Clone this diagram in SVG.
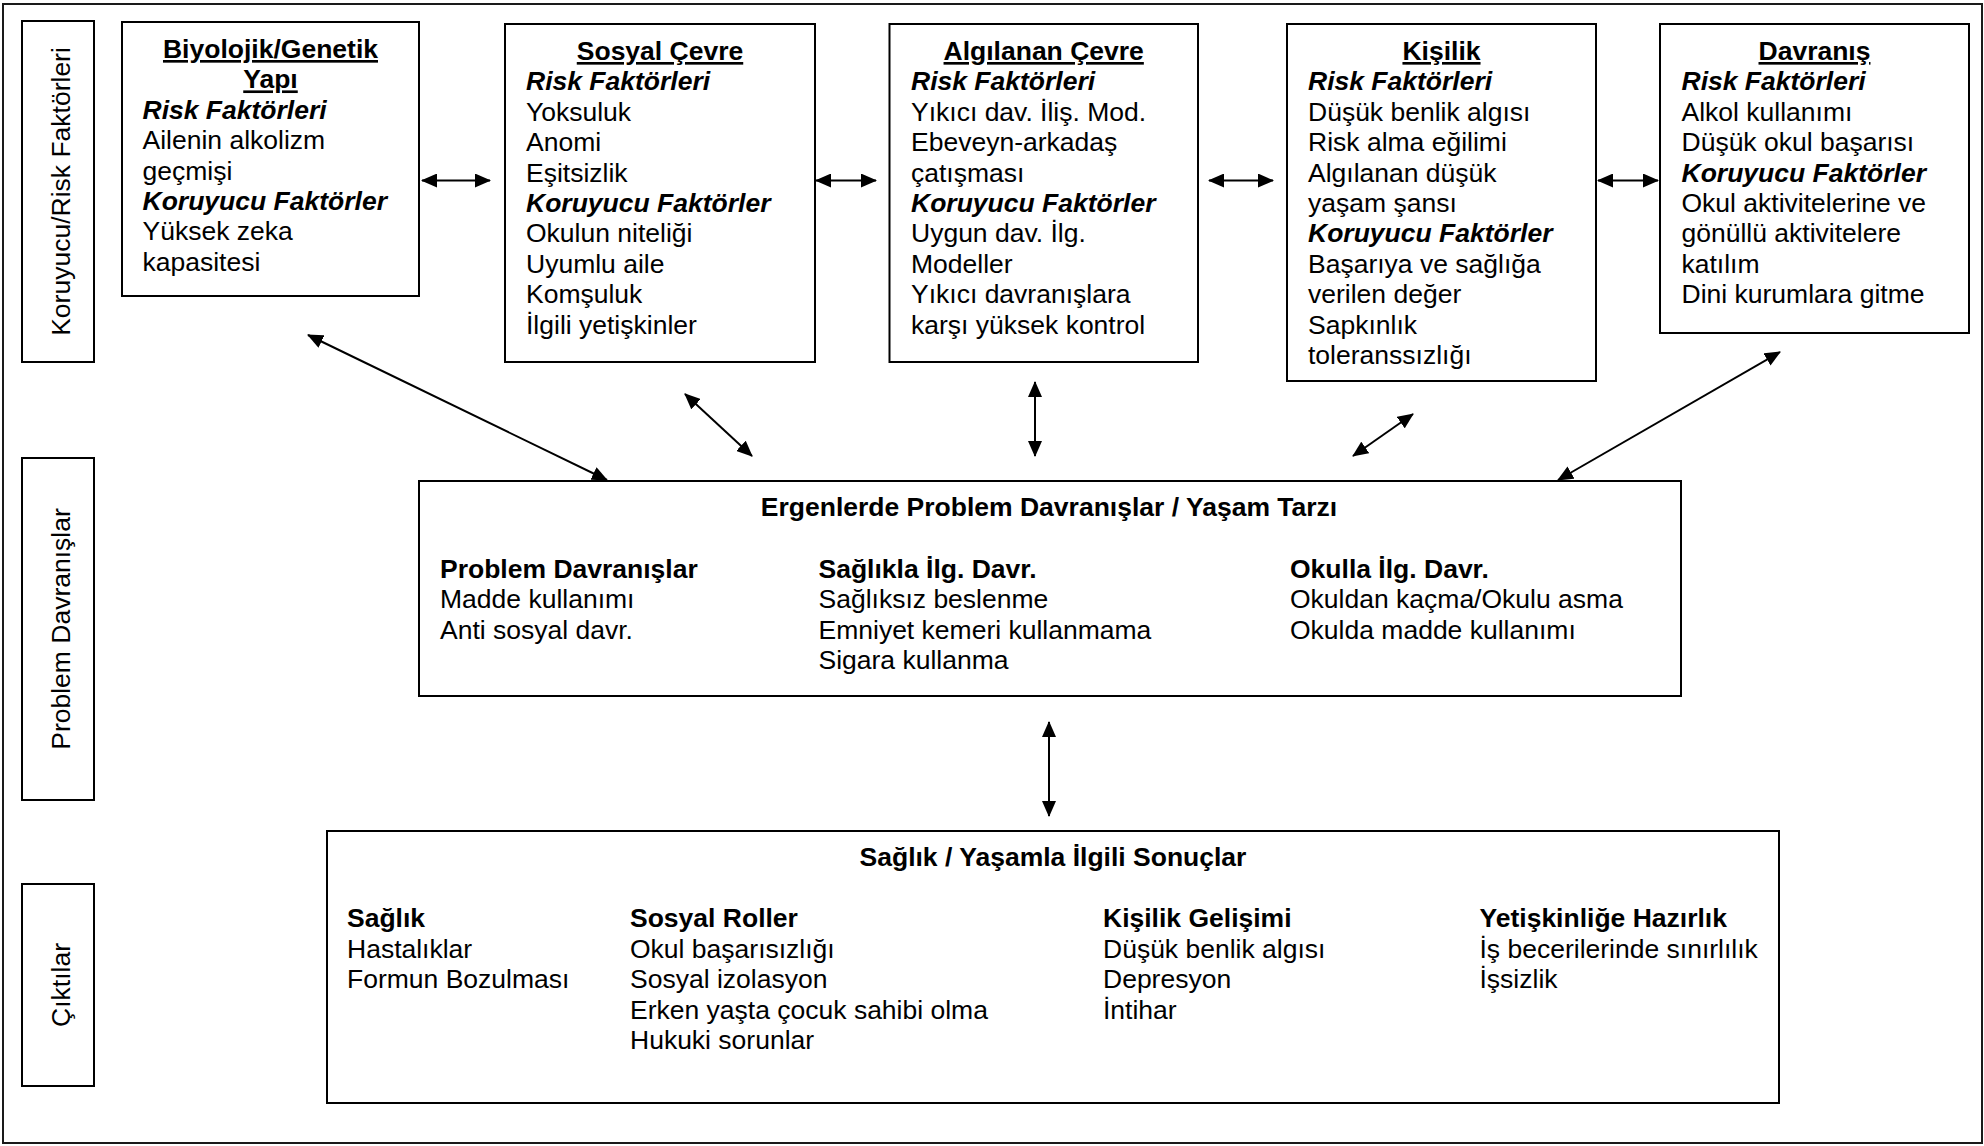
<svg xmlns="http://www.w3.org/2000/svg" width="1984" height="1146" viewBox="0 0 1984 1146">
<style>
  text { font-family: "Liberation Sans", Arial, sans-serif; font-size: 26.5px; fill: #000; }
  .box { fill: #fff; stroke: #000; stroke-width: 2; }
  .frame { fill: #fff; stroke: #1a1a1a; stroke-width: 2; }
  .t { font-weight: bold; text-decoration: underline; text-anchor: middle; }
  .h { font-weight: bold; font-style: italic; }
  .b { font-weight: bold; }
  .c { text-anchor: middle; }
  .con line { stroke: #000; stroke-width: 2; marker-start: url(#ah); marker-end: url(#ah); }
</style>
<defs>
  <marker id="ah" viewBox="0 0 16 14" refX="15" refY="7" markerWidth="16" markerHeight="14" markerUnits="userSpaceOnUse" orient="auto-start-reverse">
    <path d="M0,0 L16,7 L0,14 z" fill="#000"/>
  </marker>
</defs>
<rect class="frame" x="3" y="4" width="1979" height="1139"/>

<g id="label-koruyucu">
  <rect class="box" x="22" y="21" width="72" height="341"/>
  <text class="c" transform="translate(70,191.5) rotate(-90)">Koruyucu/Risk Faktörleri</text>
</g>
<g id="label-problem">
  <rect class="box" x="22" y="458" width="72" height="342"/>
  <text class="c" transform="translate(70,629) rotate(-90)">Problem Davranışlar</text>
</g>
<g id="label-ciktilar">
  <rect class="box" x="22" y="884" width="72" height="202"/>
  <text class="c" transform="translate(70,985) rotate(-90)">Çıktılar</text>
</g>

<g id="biyolojik">
  <rect class="box" x="122" y="22" width="297" height="274"/>
  <text class="t" x="270.5" y="58">Biyolojik/Genetik</text>
  <text class="t" x="270.5" y="88.4">Yapı</text>
  <text class="h" x="142.5" y="118.8">Risk Faktörleri</text>
  <text x="142.5" y="149.2">Ailenin alkolizm</text>
  <text x="142.5" y="179.6">geçmişi</text>
  <text class="h" x="142.5" y="210">Koruyucu Faktörler</text>
  <text x="142.5" y="240.4">Yüksek zeka</text>
  <text x="142.5" y="270.8">kapasitesi</text>
</g>

<g id="sosyal-cevre">
  <rect class="box" x="505" y="24" width="310" height="338"/>
  <text class="t" x="660" y="60">Sosyal Çevre</text>
  <text class="h" x="526" y="90.4">Risk Faktörleri</text>
  <text x="526" y="120.8">Yoksuluk</text>
  <text x="526" y="151.2">Anomi</text>
  <text x="526" y="181.6">Eşitsizlik</text>
  <text class="h" x="526" y="212">Koruyucu Faktörler</text>
  <text x="526" y="242.4">Okulun niteliği</text>
  <text x="526" y="272.8">Uyumlu aile</text>
  <text x="526" y="303.2">Komşuluk</text>
  <text x="526" y="333.6">İlgili yetişkinler</text>
</g>

<g id="algilanan-cevre">
  <rect class="box" x="889.5" y="24" width="308.5" height="338"/>
  <text class="t" x="1043.7" y="60">Algılanan Çevre</text>
  <text class="h" x="911" y="90.4">Risk Faktörleri</text>
  <text x="911" y="120.8">Yıkıcı dav. İliş. Mod.</text>
  <text x="911" y="151.2">Ebeveyn-arkadaş</text>
  <text x="911" y="181.6">çatışması</text>
  <text class="h" x="911" y="212">Koruyucu Faktörler</text>
  <text x="911" y="242.4">Uygun dav. İlg.</text>
  <text x="911" y="272.8">Modeller</text>
  <text x="911" y="303.2">Yıkıcı davranışlara</text>
  <text x="911" y="333.6">karşı yüksek kontrol</text>
</g>

<g id="kisilik">
  <rect class="box" x="1287" y="24" width="309" height="357"/>
  <text class="t" x="1441.5" y="60">Kişilik</text>
  <text class="h" x="1308" y="90.4">Risk Faktörleri</text>
  <text x="1308" y="120.8">Düşük benlik algısı</text>
  <text x="1308" y="151.2">Risk alma eğilimi</text>
  <text x="1308" y="181.6">Algılanan düşük</text>
  <text x="1308" y="212">yaşam şansı</text>
  <text class="h" x="1308" y="242.4">Koruyucu Faktörler</text>
  <text x="1308" y="272.8">Başarıya ve sağlığa</text>
  <text x="1308" y="303.2">verilen değer</text>
  <text x="1308" y="333.6">Sapkınlık</text>
  <text x="1308" y="364">toleranssızlığı</text>
</g>

<g id="davranis">
  <rect class="box" x="1660" y="24" width="309" height="309"/>
  <text class="t" x="1814.5" y="60">Davranış</text>
  <text class="h" x="1681.5" y="90.4">Risk Faktörleri</text>
  <text x="1681.5" y="120.8">Alkol kullanımı</text>
  <text x="1681.5" y="151.2">Düşük okul başarısı</text>
  <text class="h" x="1681.5" y="181.6">Koruyucu Faktörler</text>
  <text x="1681.5" y="212">Okul aktivitelerine ve</text>
  <text x="1681.5" y="242.4">gönüllü aktivitelere</text>
  <text x="1681.5" y="272.8">katılım</text>
  <text x="1681.5" y="303.2">Dini kurumlara gitme</text>
</g>

<g id="ergenlerde">
  <rect class="box" x="419" y="481" width="1262" height="215"/>
  <text class="b c" x="1049" y="516">Ergenlerde Problem Davranışlar / Yaşam Tarzı</text>
  <text class="b" x="440" y="577.5">Problem Davranışlar</text>
  <text x="440" y="608">Madde kullanımı</text>
  <text x="440" y="638.5">Anti sosyal davr.</text>
  <text class="b" x="818.5" y="577.5">Sağlıkla İlg. Davr.</text>
  <text x="818.5" y="608">Sağlıksız beslenme</text>
  <text x="818.5" y="638.5">Emniyet kemeri kullanmama</text>
  <text x="818.5" y="669">Sigara kullanma</text>
  <text class="b" x="1290" y="577.5">Okulla İlg. Davr.</text>
  <text x="1290" y="608">Okuldan kaçma/Okulu asma</text>
  <text x="1290" y="638.5">Okulda madde kullanımı</text>
</g>

<g id="sonuclar">
  <rect class="box" x="327" y="831" width="1452" height="272"/>
  <text class="b c" x="1053" y="865.5">Sağlık / Yaşamla İlgili Sonuçlar</text>
  <text class="b" x="347" y="927">Sağlık</text>
  <text x="347" y="957.5">Hastalıklar</text>
  <text x="347" y="988">Formun Bozulması</text>
  <text class="b" x="630" y="927">Sosyal Roller</text>
  <text x="630" y="957.5">Okul başarısızlığı</text>
  <text x="630" y="988">Sosyal izolasyon</text>
  <text x="630" y="1018.5">Erken yaşta çocuk sahibi olma</text>
  <text x="630" y="1049">Hukuki sorunlar</text>
  <text class="b" x="1103" y="927">Kişilik Gelişimi</text>
  <text x="1103" y="957.5">Düşük benlik algısı</text>
  <text x="1103" y="988">Depresyon</text>
  <text x="1103" y="1018.5">İntihar</text>
  <text class="b" x="1479.5" y="927">Yetişkinliğe Hazırlık</text>
  <text x="1479.5" y="957.5">İş becerilerinde sınırlılık</text>
  <text x="1479.5" y="988">İşsizlik</text>
</g>

<g id="connectors" class="con">
  <line x1="422" y1="180.5" x2="490" y2="180.5"/>
  <line x1="816" y1="180.5" x2="876" y2="180.5"/>
  <line x1="1209" y1="180.5" x2="1273" y2="180.5"/>
  <line x1="1598" y1="180.5" x2="1658" y2="180.5"/>
  <line x1="308" y1="335" x2="607" y2="480"/>
  <line x1="685" y1="394" x2="752" y2="456"/>
  <line x1="1035" y1="382" x2="1035" y2="456"/>
  <line x1="1413" y1="414" x2="1353" y2="456"/>
  <line x1="1780" y1="352" x2="1558" y2="480"/>
  <line x1="1049" y1="722" x2="1049" y2="816"/>
</g>
</svg>
